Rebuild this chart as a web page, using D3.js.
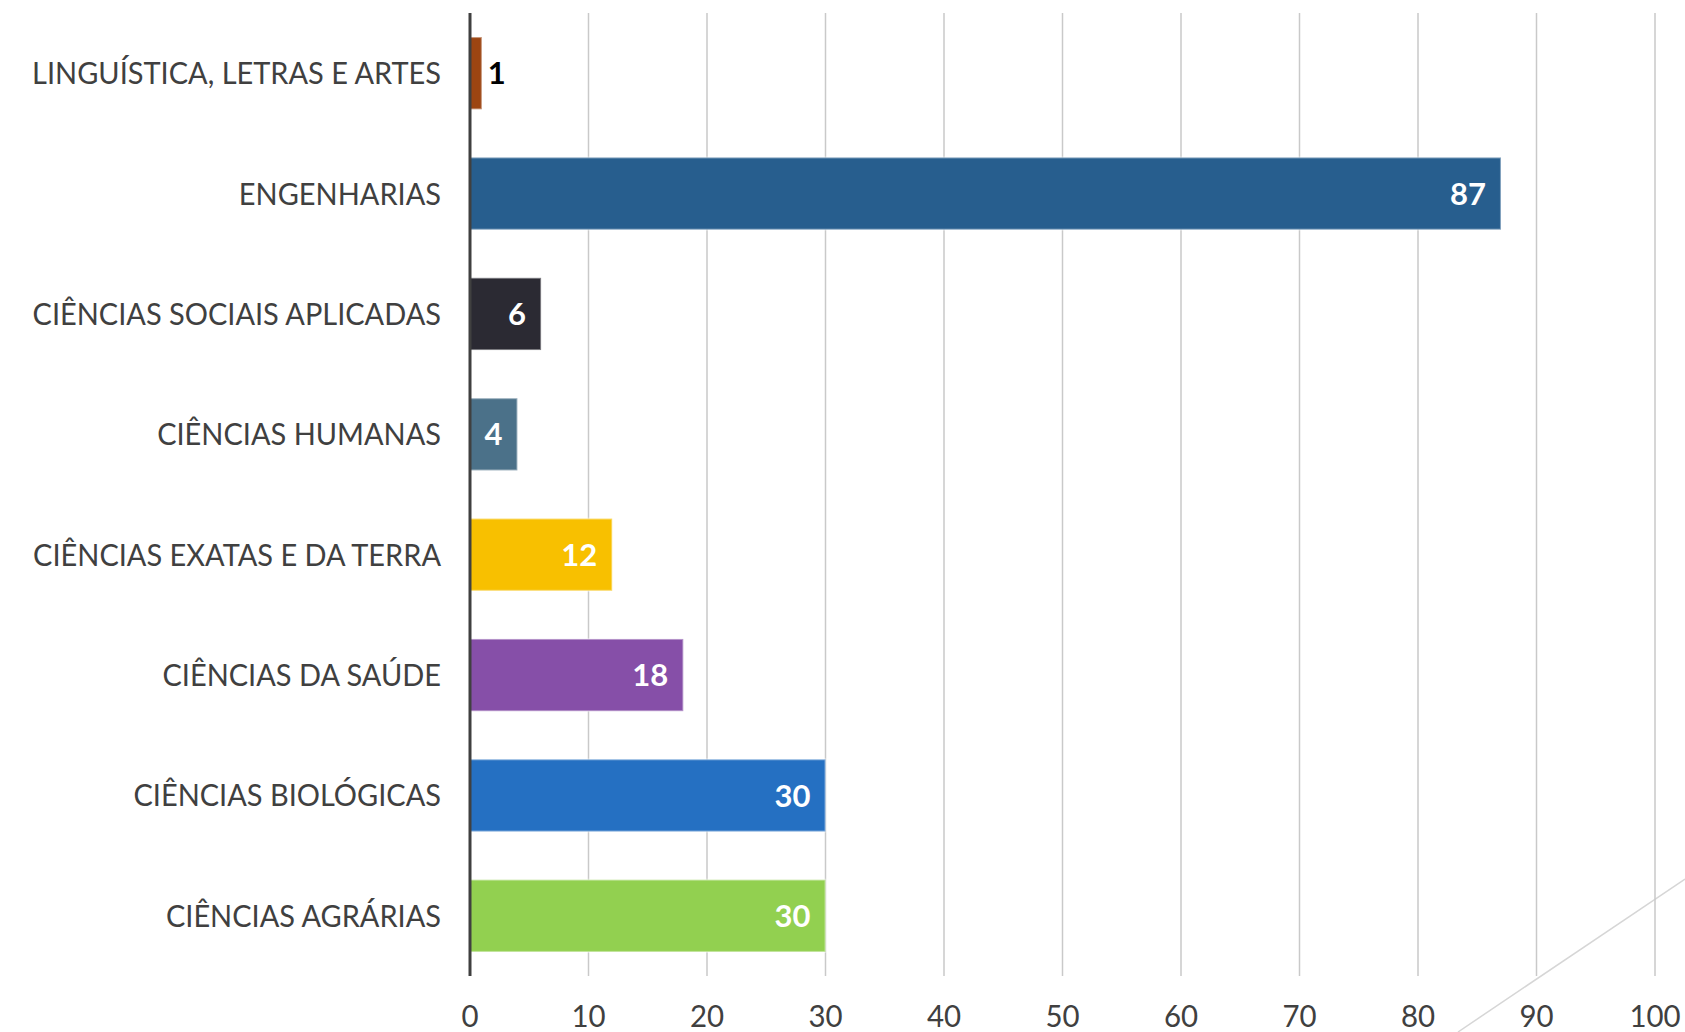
<!DOCTYPE html>
<html>
<head>
<meta charset="utf-8">
<script src="https://cdn.jsdelivr.net/npm/d3@7"></script>
<style>
  body { margin: 0; background: #fff; }
  svg { display: block; }
</style>
</head>
<body>
<div id="chart"></div>
<script>
var width = 1685;
var height = 1032;

// data, top to bottom
var categories = [
    'LINGUÍSTICA, LETRAS E ARTES',
    'ENGENHARIAS',
    'CIÊNCIAS SOCIAIS APLICADAS',
    'CIÊNCIAS HUMANAS',
    'CIÊNCIAS EXATAS E DA TERRA',
    'CIÊNCIAS DA SAÚDE',
    'CIÊNCIAS BIOLÓGICAS',
    'CIÊNCIAS AGRÁRIAS'
];
var values = [1, 87, 6, 4, 12, 18, 30, 30];
var colors = ['#9c4512', '#275e8e', '#2b2a33', '#4b7189', '#f8c000', '#864fa8', '#2570c2', '#92d050'];
var xTicks = [0, 10, 20, 30, 40, 50, 60, 70, 80, 90, 100];

var plotLeft = 470, plotRight = 1655, plotTop = 13, plotBottom = 976;
var squeeze = 0.95; // the original font is a bit narrower than Lato

var svg = d3.select('#chart')
            .append('svg')
            .attr('width', width)
            .attr('height', height);

var x_scale = d3.scaleLinear()
                .domain([0, 100])
                .range([plotLeft, plotRight]);

var y_scale = d3.scaleBand()
                .domain(categories)
                .range([plotTop, plotBottom])
                .paddingInner(0.4)
                .paddingOuter(0.2);

// decorative slide line, bottom right
svg.append('line')
    .attr('x1', 1458).attr('y1', 1032)
    .attr('x2', 1685).attr('y2', 879)
    .attr('stroke', '#d6d6d6')
    .attr('stroke-width', 1.5);

// gridlines
svg.selectAll('line.grid')
    .data(xTicks.slice(1))
    .enter()
    .append('line')
    .attr('class', 'grid')
    .attr('x1', function(d) { return x_scale(d); })
    .attr('x2', function(d) { return x_scale(d); })
    .attr('y1', plotTop)
    .attr('y2', plotBottom)
    .attr('stroke', '#c9c9c9')
    .attr('stroke-width', 1.5);

// bars
svg.selectAll('rect.bar')
    .data(values)
    .enter()
    .append('rect')
    .attr('class', 'bar')
    .attr('x', x_scale(0))
    .attr('y', function(d, i) { return y_scale(categories[i]); })
    .attr('width', function(d) { return x_scale(d) - x_scale(0); })
    .attr('height', y_scale.bandwidth())
    .attr('fill', function(d, i) { return colors[i]; })
    .attr('stroke', 'rgba(255,255,255,0.4)')
    .attr('stroke-width', 2);

// value labels
function narrow(d) { return (x_scale(d) - x_scale(0)) < 30; }

svg.selectAll('text.value')
    .data(values)
    .enter()
    .append('text')
    .attr('class', 'value')
    .attr('x', function(d) { return narrow(d) ? x_scale(d) + 6 : x_scale(d) - 15; })
    .attr('y', function(d, i) { return y_scale(categories[i]) + y_scale.bandwidth() / 2; })
    .attr('dy', '0.36em')
    .attr('text-anchor', function(d) { return narrow(d) ? 'start' : 'end'; })
    .style('font-family', 'Lato, sans-serif')
    .style('font-weight', 'bold')
    .style('font-size', '31px')
    .style('fill', function(d) { return narrow(d) ? '#000' : '#fff'; })
    .text(function(d) { return d; });

// category labels
svg.selectAll('text.cat')
    .data(categories)
    .enter()
    .append('text')
    .attr('class', 'cat')
    .attr('transform', function(d) {
        return 'translate(' + (plotLeft - 29) + ',' + (y_scale(d) + y_scale.bandwidth() / 2) + ') scale(' + squeeze + ',1)';
    })
    .attr('dy', '0.36em')
    .attr('text-anchor', 'end')
    .style('font-family', 'Lato, sans-serif')
    .style('font-size', '30.5px')
    .style('fill', '#404040')
    .text(function(d) { return d; });

// x tick labels
svg.selectAll('text.tick')
    .data(xTicks)
    .enter()
    .append('text')
    .attr('class', 'tick')
    .attr('transform', function(d) { return 'translate(' + x_scale(d) + ',1016) scale(' + squeeze + ',1)'; })
    .attr('dy', '0.36em')
    .attr('text-anchor', 'middle')
    .style('font-family', 'Lato, sans-serif')
    .style('font-size', '31px')
    .style('fill', '#404040')
    .text(function(d) { return d; });

// category axis line
svg.append('line')
    .attr('x1', plotLeft).attr('x2', plotLeft)
    .attr('y1', plotTop).attr('y2', plotBottom)
    .attr('stroke', '#404040')
    .attr('stroke-width', 3);
</script>
</body>
</html>
